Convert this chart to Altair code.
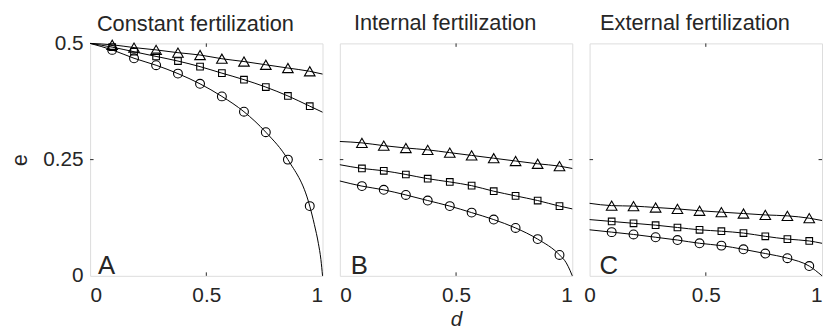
import altair as alt
import pandas as pd

# ---------------- data ----------------
PANELS = ["A", "B", "C"]
TITLES = ["Constant fertilization", "Internal fertilization", "External fertilization"]
SERIES = ["tri", "sq", "circ"]

# marker positions along d
D_MARK = [0.095, 0.189, 0.284, 0.378, 0.473, 0.567, 0.662, 0.756, 0.851, 0.945]

# marker values (e) per panel / series
A_TRI = [0.497, 0.491, 0.486, 0.480, 0.475, 0.467, 0.461, 0.454, 0.447, 0.440]
A_SQ = [0.492, 0.482, 0.472, 0.462, 0.450, 0.436, 0.422, 0.406, 0.387, 0.365]
A_CIRC = [0.486, 0.468, 0.453, 0.435, 0.413, 0.386, 0.353, 0.309, 0.250, 0.150]
B_TRI = [0.286, 0.280, 0.275, 0.271, 0.265, 0.259, 0.253, 0.247, 0.241, 0.236]
B_SQ = [0.231, 0.226, 0.218, 0.209, 0.202, 0.194, 0.182, 0.172, 0.162, 0.150]
B_CIRC = [0.193, 0.185, 0.174, 0.162, 0.150, 0.136, 0.121, 0.103, 0.079, 0.045]
C_TRI = [0.151, 0.150, 0.147, 0.144, 0.140, 0.137, 0.134, 0.131, 0.129, 0.124]
C_SQ = [0.117, 0.113, 0.109, 0.104, 0.099, 0.096, 0.092, 0.085, 0.079, 0.075]
C_CIRC = [0.094, 0.089, 0.083, 0.077, 0.070, 0.065, 0.057, 0.048, 0.038, 0.021]

# curve values at d = 0 and d = 1
A_TRI_END = [0.500, 0.434]
A_SQ_END = [0.500, 0.352]
A_CIRC_END = [0.500, 0.0]
B_TRI_END = [0.289, 0.231]
B_SQ_END = [0.239, 0.144]
B_CIRC_END = [0.204, 0.0]
C_TRI_END = [0.156, 0.119]
C_SQ_END = [0.121, 0.070]
C_CIRC_END = [0.099, 0.0]

# extra curve points read near d = 1 where the circle curves drop steeply
A_CIRC_TAIL_D = [0.965, 0.982, 0.993]
A_CIRC_TAIL_E = [0.110, 0.070, 0.035]
B_CIRC_TAIL_D = [0.974, 0.990]
B_CIRC_TAIL_E = [0.028, 0.012]

X_TICKS = [0, 0.5, 1]
Y_TICKS = [0, 0.25, 0.5]
X_INNER = [0.5]
Y_INNER = [0.25]

MARKS = {
    "A": {"tri": A_TRI, "sq": A_SQ, "circ": A_CIRC},
    "B": {"tri": B_TRI, "sq": B_SQ, "circ": B_CIRC},
    "C": {"tri": C_TRI, "sq": C_SQ, "circ": C_CIRC},
}
ENDS = {
    "A": {"tri": A_TRI_END, "sq": A_SQ_END, "circ": A_CIRC_END},
    "B": {"tri": B_TRI_END, "sq": B_SQ_END, "circ": B_CIRC_END},
    "C": {"tri": C_TRI_END, "sq": C_SQ_END, "circ": C_CIRC_END},
}
TAILS = {
    ("A", "circ"): (A_CIRC_TAIL_D, A_CIRC_TAIL_E),
    ("B", "circ"): (B_CIRC_TAIL_D, B_CIRC_TAIL_E),
}

line_rows, mark_rows = [], []
for p in PANELS:
    for s in SERIES:
        vals = MARKS[p][s]
        ends = ENDS[p][s]
        pts = [(0.0, ends[0])] + list(zip(D_MARK, vals))
        if (p, s) in TAILS:
            td, te = TAILS[(p, s)]
            pts += list(zip(td, te))
        pts += [(1.0, ends[1])]
        for d, e in pts:
            line_rows.append({"panel": p, "series": s, "d": d, "e": e})
        for d, e in zip(D_MARK, vals):
            mark_rows.append({"panel": p, "series": s, "d": d, "e": e})
line_df = pd.DataFrame(line_rows)
mark_df = pd.DataFrame(mark_rows)

# ---------------- styling ----------------
W = 235
H = 235
AX = "#262626"
FONT = "Liberation Sans"
SHAPES = {"tri": ("triangle-up", 115), "sq": ("square", 45), "circ": ("circle", 80)}
LETTER_X = {"A": 8, "B": 11, "C": 10}
# panel A's y-axis labels poke above the frame, so its title needs a smaller offset
TITLE_OFFSET = {"A": -3, "B": 8, "C": 8}


def panel(i):
    p = PANELS[i]
    xkw = {}
    if p == "C":
        # keep the last label of the right-most panel inside the page
        xkw["labelAlign"] = alt.condition("datum.value == 1", alt.value("right"), alt.value("center"))
    xaxis = alt.Axis(values=X_TICKS, format=".1~f", tickSize=0, domain=False, grid=False,
                     labelPadding=9, labelFontSize=21, labelColor=AX,
                     title="d" if p == "B" else None, titleFontStyle="italic",
                     titleFontSize=21, titleFontWeight="normal", titleColor=AX,
                     titlePadding=3, **xkw)
    if p == "A":
        yaxis = alt.Axis(values=Y_TICKS, format=".2~f", tickSize=0, domain=False, grid=False,
                         labelPadding=7, labelFontSize=21, labelColor=AX,
                         title="e", titleFontSize=22, titleFontWeight="normal",
                         titleColor=AX, titlePadding=11)
    else:
        yaxis = None
    xs = alt.Scale(domain=[0, 1], nice=False, zero=False)
    ys = alt.Scale(domain=[0, 0.5], nice=False, zero=False)

    lines = alt.Chart(line_df[line_df.panel == p]).mark_line(
        color="black", strokeWidth=1, interpolate="monotone"
    ).encode(
        x=alt.X("d:Q", scale=xs, axis=xaxis),
        y=alt.Y("e:Q", scale=ys, axis=yaxis),
        detail="series:N",
    )
    layers = [lines]
    sub = mark_df[mark_df.panel == p]
    for s in SERIES:
        shp, sz = SHAPES[s]
        layers.append(
            alt.Chart(sub[sub.series == s]).mark_point(
                shape=shp, size=sz, filled=False, color="black", strokeWidth=1.1, opacity=1
            ).encode(x="d:Q", y="e:Q")
        )
    xt = pd.DataFrame({"d": X_INNER})
    yt = pd.DataFrame({"e": Y_INNER})
    layers.append(alt.Chart(xt).mark_rule(color=AX, strokeWidth=1).encode(
        x="d:Q", y=alt.value(H), y2=alt.value(H - 3.5)))
    layers.append(alt.Chart(xt).mark_rule(color=AX, strokeWidth=1).encode(
        x="d:Q", y=alt.value(0), y2=alt.value(3.5)))
    layers.append(alt.Chart(yt).mark_rule(color=AX, strokeWidth=1).encode(
        y="e:Q", x=alt.value(0), x2=alt.value(3.5)))
    layers.append(alt.Chart(yt).mark_rule(color=AX, strokeWidth=1).encode(
        y="e:Q", x=alt.value(W), x2=alt.value(W - 3.5)))
    layers.append(alt.Chart(pd.DataFrame({"t": [p]})).mark_text(
        fontSize=26, font=FONT, color=AX, align="left", baseline="alphabetic"
    ).encode(text="t:N", x=alt.value(LETTER_X[p]), y=alt.value(H - 2)))

    return alt.layer(*layers).properties(
        width=W, height=H,
        title=alt.TitleParams(TITLES[i], fontSize=22, font=FONT, fontWeight="normal",
                              color=AX, anchor="middle", frame="group", dx=-11,
                              offset=TITLE_OFFSET[p]),
    )


chart = alt.hconcat(panel(0), panel(1), panel(2), spacing=17.5, bounds="flush").configure_view(
    stroke=AX, strokeWidth=1
).configure_axis(labelFont=FONT, titleFont=FONT).configure(
    padding={"left": 0, "top": 2, "right": 0, "bottom": 0})

chart.save("out.html", embed_options={"renderer": "svg", "actions": False})
